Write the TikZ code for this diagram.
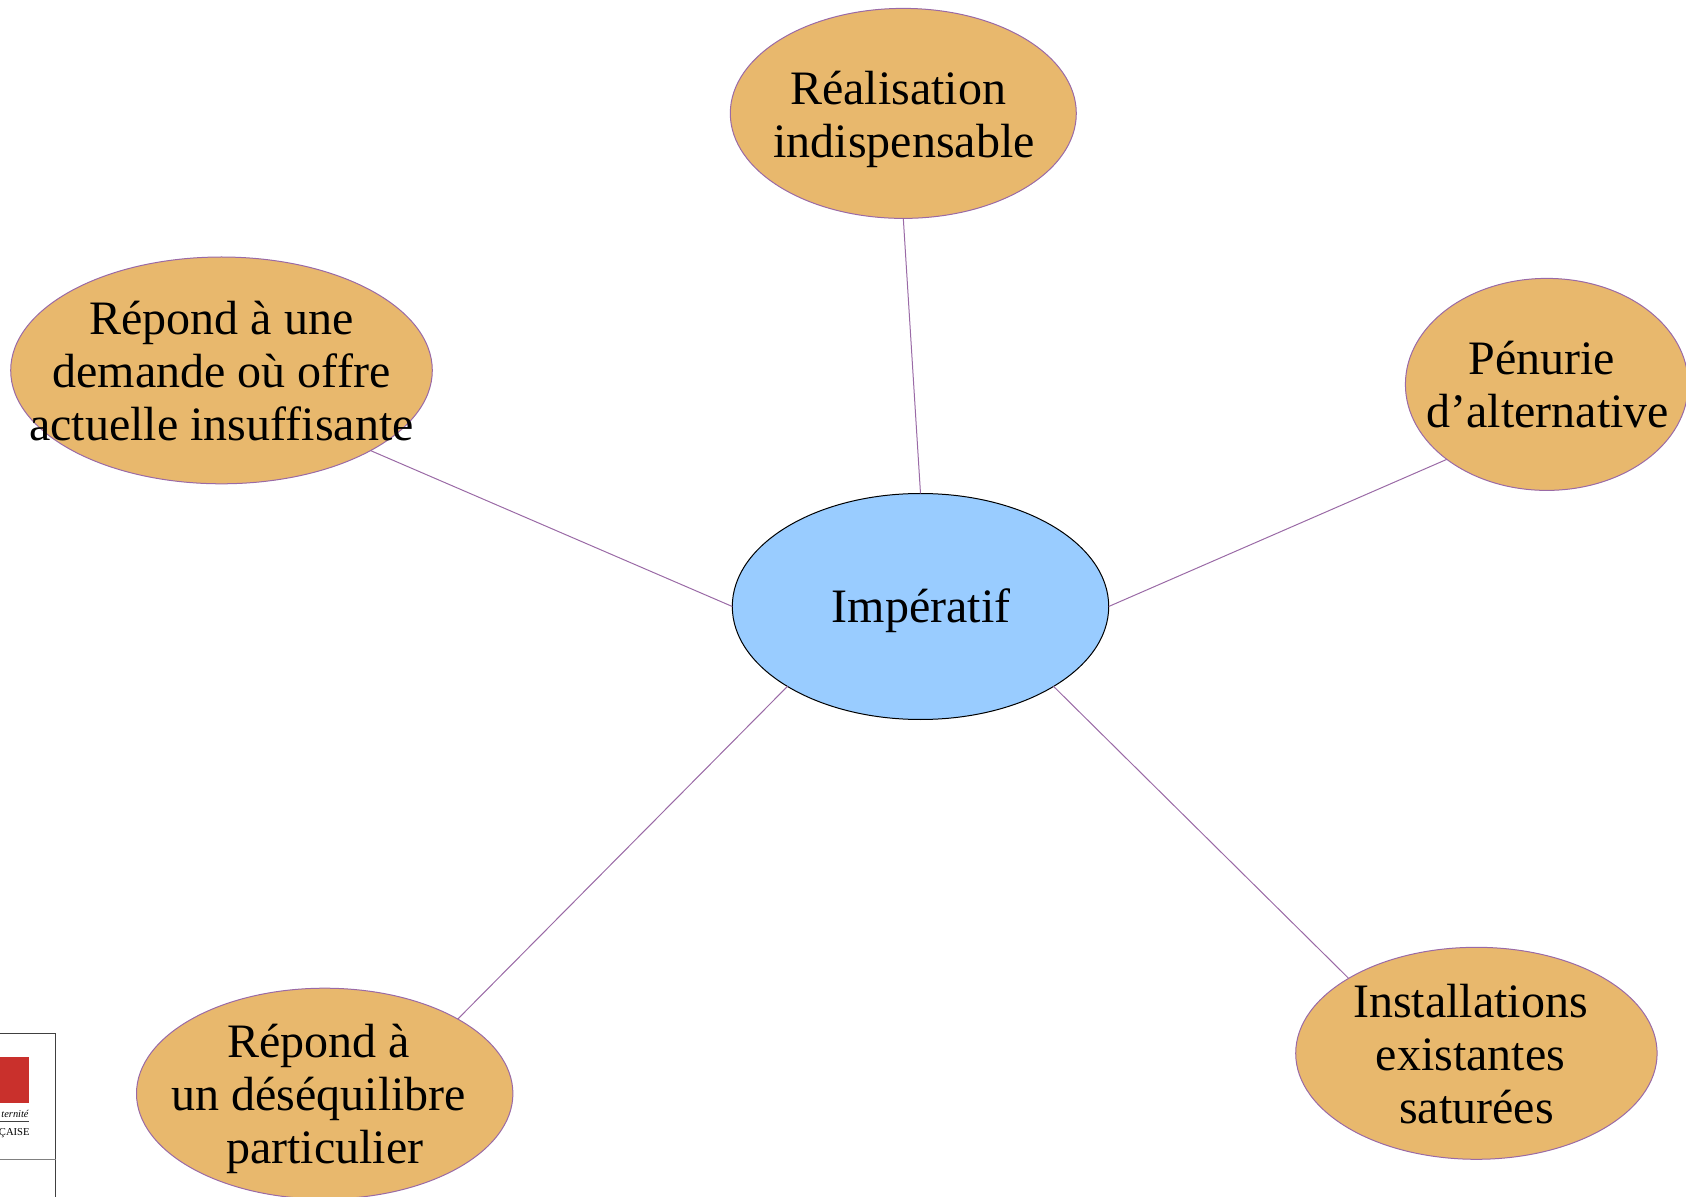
\documentclass[tikz,border=0pt]{standalone}
\usepackage{fontspec}
\setmainfont{Liberation Serif}
\usetikzlibrary{shapes.geometric}
\definecolor{bubble}{HTML}{E8B86D}
\definecolor{hub}{HTML}{99CCFF}
\definecolor{mauve}{HTML}{9A6AA6}
\definecolor{flagred}{HTML}{C9302C}
\newcommand{\padline}[1]{\mbox{#1\kern 6pt}}
\tikzset{
  x=0.5pt,y=-0.5pt,
  oval/.style={ellipse,inner sep=0pt,outer sep=0pt,draw=mauve,line width=0.5pt,fill=bubble},
  hubshape/.style={oval,draw=black,fill=hub},
  words/.style={inner sep=0pt,outer sep=0pt,align=center,text=black,font=\fontsize{24}{26.5}\selectfont},
  spoke/.style={draw=mauve,line width=0.5pt},
  frameline/.style={draw=black!75,line width=0.5pt}
}
\begin{document}
\begin{tikzpicture}
\path[use as bounding box,clip] (0,0) rectangle (1686,1197);
% oval shapes
\node[hubshape,minimum width=188.2pt,minimum height=113pt] (hub) at (920.5,606.5) {};
\node[oval,minimum width=173pt,minimum height=105pt] (top) at (903.3,113.4) {};
\node[oval,minimum width=210.8pt,minimum height=113.4pt] (left) at (221.5,370.4) {};
\node[oval,minimum width=141.4pt,minimum height=106pt] (right) at (1546.8,384.4) {};
\node[oval,minimum width=188.2pt,minimum height=105.4pt] (bl) at (324.7,1093.6) {};
\node[oval,minimum width=180.7pt,minimum height=106pt] (br) at (1476.4,1053.3) {};
% connectors
\draw[spoke] (top.south) -- (hub.north);
\draw[spoke] (left.south east) -- (hub.west);
\draw[spoke] (right.south west) -- (hub.east);
\draw[spoke] (bl.north east) -- (hub.south west);
\draw[spoke] (br.north west) -- (hub.south east);
% texts
\node[words] (hubT) at (921,611) {Impératif};
\node[words] (topT) at (904,119) {\padline{Réalisation}\\indispensable};
\node[words] (leftT) at (221.5,370.8) {Répond à une\\demande où offre\\actuelle insuffisante};
\node[words] (rightT) at (1547.8,384.4) {\padline{Pénurie}\\d’alternative};
\node[words] (blT) at (324.7,1099.4) {\padline{Répond à}\\\padline{un déséquilibre}\\particulier};
\node[words] (brT) at (1476.4,1054.3) {\padline{Installations}\\\padline{existantes}\\saturées};
% logo fragment
\coordinate (fa) at (0,1033);
\coordinate (fb) at (55.5,1033);
\coordinate (fc) at (55.5,1197);
\coordinate (fd) at (0,1159);
\coordinate (fe) at (55.5,1159);
\draw[frameline] (fa) -- (fb) -- (fc);
\draw[frameline,draw=black!50] (fd) -- (fe);
\fill[flagred] (0,1057) rectangle (28.5,1103);
\node[inner sep=0pt,anchor=east,font=\fontsize{5.2}{5}\selectfont\itshape] (motto) at (29,1114) {ternité};
\coordinate (ra) at (0,1121);
\coordinate (rb) at (28.5,1121);
\draw[frameline,line width=0.35pt] (ra) -- (rb);
\node[inner sep=0pt,anchor=east,font=\fontsize{5.3}{5}\selectfont] (rf) at (30,1133) {ÇAISE};
\end{tikzpicture}
\end{document}
